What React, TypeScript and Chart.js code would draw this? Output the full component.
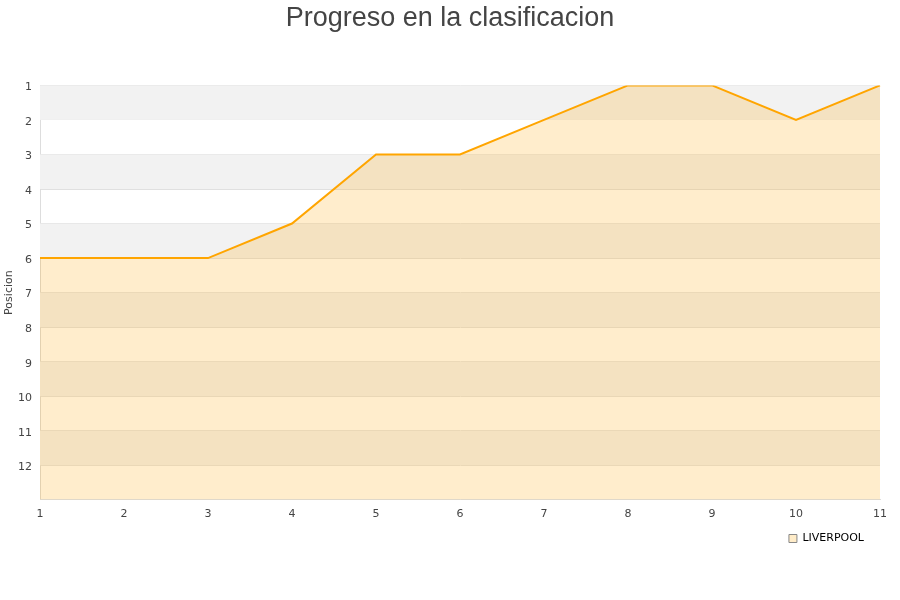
import React, { useEffect, useRef } from "react";
import { Chart, registerables } from "chart.js";

Chart.register(...registerables);

const jornadas = ["1", "2", "3", "4", "5", "6", "7", "8", "9", "10", "11"];
const posiciones = [6, 6, 6, 5, 3, 3, 2, 1, 1, 2, 1];
const equipo = "LIVERPOOL";
const titulo = "Progreso en la clasificacion";
const ejeY = "Posicion";
const posMin = 1;
const posMax = 13;

const bandsPlugin = {
  id: "bands",
  beforeDatasetsDraw(chart: any) {
    const { ctx, chartArea } = chart;
    const y = chart.scales.y;
    ctx.save();
    ctx.fillStyle = "#f2f2f2";
    for (let v = posMin; v < posMax; v += 2) {
      const a = y.getPixelForValue(v);
      const b = y.getPixelForValue(v + 1);
      ctx.fillRect(chartArea.left, Math.min(a, b), chartArea.right - chartArea.left, Math.abs(b - a));
    }
    ctx.restore();
  },
};

const legendShift = {
  id: "legendShift",
  afterLayout(chart: any) {
    const l = chart.legend;
    if (!l) return;
    l.left -= 8;
    l.right -= 8;
    l.top -= 4;
    l.bottom -= 4;
  },
};

export default function App() {
  const ref = useRef<HTMLCanvasElement>(null);
  useEffect(() => {
    document.body.style.margin = "0";
    const chart = new Chart(ref.current!, {
      type: "line",
      data: {
        labels: jornadas,
        datasets: [
          {
            label: equipo,
            data: posiciones,
            borderColor: "#ffa500",
            backgroundColor: "rgba(255,165,0,0.2)",
            borderWidth: 2,
            pointRadius: 0,
            tension: 0,
            fill: { value: posMax },
          },
        ],
      },
      options: {
        animation: false,
        responsive: false,
        layout: { padding: { left: 0, right: 0, top: 0, bottom: 42 } },
        plugins: {
          title: {
            display: true,
            text: titulo,
            color: "#444",
            font: { family: "'Liberation Sans', Arial, sans-serif", size: 27, weight: "normal" },
            padding: { top: 2, bottom: 51 },
          },
          legend: {
            position: "bottom",
            align: "end",
            fullSize: false,
            labels: {
              boxWidth: 8,
              boxHeight: 8,
              color: "#000",
              font: { family: "'DejaVu Sans', sans-serif", size: 11 },
              padding: 8,
              generateLabels: (c: any) =>
                Chart.defaults.plugins.legend.labels.generateLabels(c).map((l: any) => ({
                  ...l,
                  fillStyle: "#ffecc8",
                  strokeStyle: "#888",
                  lineWidth: 1,
                })),
            },
          },
          tooltip: { enabled: false },
        },
        scales: {
          x: {
            grid: { display: false, drawTicks: false },
            border: { color: "#ddd" },
            ticks: {
              color: "#444",
              font: { family: "'DejaVu Sans', sans-serif", size: 11 },
              padding: 8,
              maxRotation: 0,
            },
          },
          y: {
            reverse: true,
            min: posMin,
            max: posMax,
            afterFit: (s: any) => {
              s.width = 40;
            },
            grid: { color: "#e0e0e0", drawTicks: false },
            border: { color: "#ddd" },
            title: {
              display: true,
              text: ejeY,
              color: "#444",
              font: { family: "'DejaVu Sans', sans-serif", size: 11 },
              padding: { top: 3, bottom: 0 },
            },
            ticks: {
              stepSize: 1,
              color: "#444",
              font: { family: "'DejaVu Sans', sans-serif", size: 11 },
              padding: 8,
              labelOffset: 2,
              callback: (v: any) => (v === posMax ? "" : String(v)),
            },
          },
          yRight: {
            position: "right",
            display: true,
            afterFit: (s: any) => {
              s.width = 20;
            },
            grid: { display: false },
            border: { display: false },
            ticks: { display: false },
          },
        },
      },
      plugins: [bandsPlugin, legendShift],
    });
    return () => chart.destroy();
  }, []);
  return (
    <div style={{ width: 900, height: 600 }}>
      <canvas ref={ref} width={900} height={600} />
    </div>
  );
}
